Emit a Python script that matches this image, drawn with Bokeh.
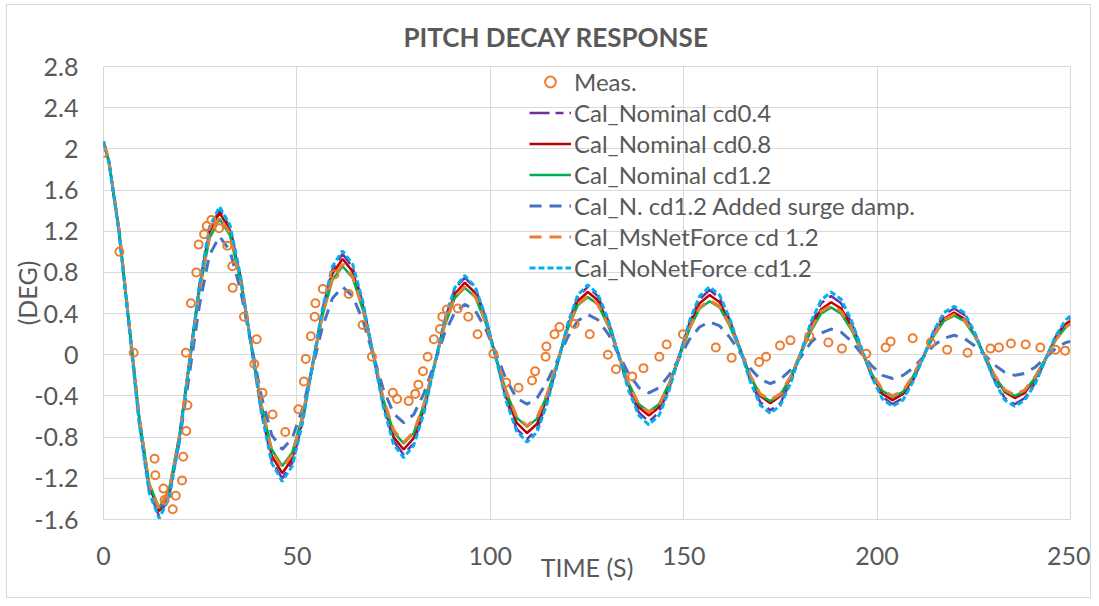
from bokeh.plotting import figure
from bokeh.models import Range1d, FixedTicker, NumeralTickFormatter, Legend, LegendItem
from bokeh.embed import file_html
from bokeh.resources import INLINE

# ---------------- data ----------------
time_calc = [0, 1.4, 4.0, 6.6, 9.2, 11.8, 14.4,
             17.0, 19.6, 22.2, 24.8, 27.4, 30.0,
             32.7, 35.4, 38.1, 40.8, 43.5, 46.2,
             48.8, 51.4, 54.0, 56.6, 59.2, 61.8,
             64.4, 67.1, 69.7, 72.3, 75.0, 77.6,
             80.2, 82.9, 85.5, 88.1, 90.8, 93.4,
             96.1, 98.8, 101.5, 104.1, 106.8, 109.5,
             112.1, 114.7, 117.4, 120.0, 122.6, 125.2,
             127.8, 130.5, 133.1, 135.7, 138.4, 141.0,
             143.6, 146.2, 148.9, 151.5, 154.1, 156.7,
             159.3, 161.9, 164.6, 167.2, 169.8, 172.4,
             175.0, 177.6, 180.3, 182.9, 185.5, 188.1,
             190.7, 193.4, 196.0, 198.7, 201.4, 204.0,
             206.7, 209.3, 212.0, 214.6, 217.3, 219.9,
             222.5, 225.1, 227.8, 230.4, 233.0, 235.6,
             238.2, 240.9, 243.5, 246.1, 248.8, 250.0]

cal_nominal_cd04 = [2.07, 1.87, 1.20, 0.28, -0.65, -1.32, -1.57,
                    -1.37, -0.83, -0.08, 0.67, 1.21, 1.41,
                    1.24, 0.76, 0.11, -0.55, -1.03, -1.20,
                    -1.05, -0.66, -0.11, 0.44, 0.83, 0.98,
                    0.85, 0.49, 0.01, -0.48, -0.84, -0.97,
                    -0.86, -0.54, -0.11, 0.32, 0.64, 0.75,
                    0.65, 0.36, -0.04, -0.43, -0.72, -0.82,
                    -0.72, -0.45, -0.08, 0.29, 0.56, 0.66,
                    0.57, 0.33, 0.01, -0.32, -0.56, -0.65,
                    -0.56, -0.33, -0.01, 0.31, 0.54, 0.63,
                    0.55, 0.34, 0.05, -0.25, -0.46, -0.54,
                    -0.47, -0.26, 0.02, 0.29, 0.50, 0.57,
                    0.50, 0.31, 0.05, -0.22, -0.41, -0.48,
                    -0.42, -0.25, -0.02, 0.22, 0.39, 0.45,
                    0.39, 0.22, -0.02, -0.25, -0.42, -0.48,
                    -0.42, -0.27, -0.05, 0.17, 0.32, 0.36]

cal_nominal_cd08 = [2.07, 1.88, 1.21, 0.30, -0.61, -1.28, -1.52,
                    -1.33, -0.80, -0.07, 0.66, 1.19, 1.38,
                    1.21, 0.75, 0.12, -0.52, -0.98, -1.15,
                    -1.01, -0.63, -0.11, 0.41, 0.79, 0.93,
                    0.81, 0.47, 0.01, -0.46, -0.80, -0.92,
                    -0.81, -0.52, -0.11, 0.30, 0.59, 0.70,
                    0.60, 0.34, -0.03, -0.40, -0.66, -0.76,
                    -0.67, -0.42, -0.08, 0.27, 0.52, 0.61,
                    0.53, 0.31, 0.01, -0.29, -0.51, -0.59,
                    -0.51, -0.30, 0.00, 0.29, 0.50, 0.58,
                    0.51, 0.32, 0.06, -0.21, -0.40, -0.47,
                    -0.40, -0.23, 0.02, 0.27, 0.44, 0.51,
                    0.45, 0.27, 0.04, -0.20, -0.38, -0.44,
                    -0.38, -0.23, -0.02, 0.20, 0.35, 0.41,
                    0.35, 0.20, -0.01, -0.21, -0.36, -0.42,
                    -0.37, -0.23, -0.04, 0.16, 0.30, 0.33]

cal_nominal_cd12 = [2.07, 1.88, 1.22, 0.32, -0.59, -1.25, -1.49,
                    -1.30, -0.79, -0.09, 0.62, 1.13, 1.32,
                    1.16, 0.72, 0.12, -0.48, -0.92, -1.08,
                    -0.95, -0.60, -0.11, 0.38, 0.73, 0.86,
                    0.75, 0.43, 0.00, -0.43, -0.75, -0.86,
                    -0.76, -0.48, -0.11, 0.27, 0.55, 0.65,
                    0.56, 0.31, -0.03, -0.36, -0.61, -0.70,
                    -0.62, -0.39, -0.07, 0.25, 0.48, 0.56,
                    0.49, 0.28, 0.01, -0.27, -0.48, -0.55,
                    -0.48, -0.28, -0.02, 0.25, 0.45, 0.52,
                    0.46, 0.28, 0.04, -0.21, -0.39, -0.45,
                    -0.39, -0.22, 0.01, 0.23, 0.40, 0.46,
                    0.40, 0.24, 0.03, -0.19, -0.35, -0.41,
                    -0.36, -0.21, -0.02, 0.18, 0.33, 0.38,
                    0.33, 0.19, -0.01, -0.21, -0.35, -0.40,
                    -0.35, -0.22, -0.04, 0.14, 0.27, 0.30]

cal_surge_damp = [2.07, 1.88, 1.21, 0.30, -0.61, -1.28, -1.52,
                  -1.34, -0.85, -0.19, 0.48, 0.97, 1.15,
                  1.01, 0.63, 0.12, -0.40, -0.78, -0.92,
                  -0.81, -0.53, -0.13, 0.27, 0.55, 0.66,
                  0.57, 0.33, 0.00, -0.33, -0.57, -0.66,
                  -0.58, -0.37, -0.09, 0.20, 0.41, 0.49,
                  0.43, 0.25, 0.01, -0.24, -0.42, -0.48,
                  -0.42, -0.26, -0.05, 0.17, 0.33, 0.39,
                  0.34, 0.20, 0.01, -0.18, -0.32, -0.37,
                  -0.32, -0.20, -0.03, 0.15, 0.27, 0.32,
                  0.28, 0.17, 0.02, -0.13, -0.24, -0.28,
                  -0.24, -0.15, -0.02, 0.12, 0.21, 0.25,
                  0.22, 0.13, 0.01, -0.11, -0.20, -0.23,
                  -0.20, -0.13, -0.02, 0.09, 0.16, 0.19,
                  0.16, 0.09, 0.00, -0.10, -0.17, -0.20,
                  -0.18, -0.12, -0.03, 0.06, 0.12, 0.13]

cal_ms_net_force = [2.07, 1.88, 1.22, 0.31, -0.60, -1.26, -1.50,
                    -1.31, -0.79, -0.08, 0.63, 1.15, 1.34,
                    1.18, 0.73, 0.12, -0.49, -0.94, -1.10,
                    -0.97, -0.61, -0.11, 0.39, 0.75, 0.88,
                    0.76, 0.45, 0.02, -0.42, -0.73, -0.85,
                    -0.75, -0.47, -0.10, 0.28, 0.56, 0.66,
                    0.57, 0.32, -0.02, -0.35, -0.60, -0.69,
                    -0.61, -0.38, -0.06, 0.26, 0.49, 0.57,
                    0.49, 0.29, 0.01, -0.28, -0.48, -0.56,
                    -0.49, -0.29, -0.02, 0.26, 0.46, 0.53,
                    0.47, 0.29, 0.05, -0.20, -0.38, -0.44,
                    -0.38, -0.21, 0.02, 0.25, 0.42, 0.48,
                    0.42, 0.26, 0.04, -0.18, -0.34, -0.40,
                    -0.35, -0.20, -0.01, 0.19, 0.34, 0.39,
                    0.34, 0.20, 0.00, -0.20, -0.34, -0.39,
                    -0.34, -0.21, -0.04, 0.14, 0.27, 0.30]

cal_no_net_force = [2.07, 1.87, 1.19, 0.27, -0.66, -1.34, -1.59,
                    -1.39, -0.83, -0.08, 0.68, 1.24, 1.44,
                    1.26, 0.77, 0.11, -0.56, -1.05, -1.23,
                    -1.08, -0.67, -0.11, 0.45, 0.86, 1.01,
                    0.88, 0.51, 0.00, -0.50, -0.87, -1.00,
                    -0.88, -0.56, -0.12, 0.33, 0.65, 0.77,
                    0.66, 0.37, -0.04, -0.45, -0.74, -0.85,
                    -0.75, -0.47, -0.09, 0.30, 0.58, 0.68,
                    0.59, 0.34, 0.00, -0.34, -0.59, -0.68,
                    -0.59, -0.35, -0.01, 0.33, 0.57, 0.66,
                    0.58, 0.35, 0.05, -0.26, -0.49, -0.57,
                    -0.49, -0.28, 0.02, 0.32, 0.53, 0.61,
                    0.54, 0.33, 0.06, -0.22, -0.43, -0.50,
                    -0.44, -0.26, -0.02, 0.23, 0.41, 0.47,
                    0.41, 0.23, -0.02, -0.26, -0.44, -0.50,
                    -0.44, -0.28, -0.05, 0.18, 0.34, 0.38]

meas_time = [0.0, 4.1, 7.8, 13.2, 13.4, 15.5, 15.8, 17.9, 18.7, 20.3,
             20.6, 21.4, 21.7, 21.3, 22.6, 24.0, 24.6, 26.0, 26.7, 27.9,
             29.9, 32.0, 33.3, 33.4, 36.3, 39.6, 39.0, 41.1, 43.7, 47.0,
             50.4, 51.8, 52.3, 53.6, 54.6, 54.8, 56.7, 59.7, 63.4, 67.0,
             69.4, 74.8, 75.9, 78.9, 80.6, 81.4, 82.6, 83.8, 85.4, 87.0,
             87.6, 88.8, 91.6, 94.3, 96.7, 100.8, 104.1, 107.3, 110.8, 111.6,
             114.3, 114.5, 116.6, 117.9, 121.8, 125.7, 130.4, 132.5, 136.7, 139.6,
             143.7, 145.6, 149.8, 158.3, 162.4, 169.5, 171.3, 174.9, 177.6, 182.5,
             187.4, 190.9, 197.2, 202.2, 203.5, 209.2, 213.9, 218.1, 223.4, 229.3,
             231.5, 234.6, 238.4, 242.2, 246.1, 248.6]
meas_deg = [1.96, 1.00, 0.02, -1.01, -1.17, -1.30, -1.41, -1.50, -1.37, -1.22,
            -0.99, -0.74, -0.49, 0.02, 0.50, 0.80, 1.07, 1.17, 1.25, 1.31,
            1.23, 1.06, 0.86, 0.65, 0.37, 0.15, -0.09, -0.37, -0.58, -0.75,
            -0.53, -0.26, -0.04, 0.18, 0.37, 0.50, 0.64, 0.78, 0.59, 0.29,
            -0.02, -0.37, -0.43, -0.45, -0.38, -0.29, -0.16, -0.02, 0.15, 0.25,
            0.37, 0.44, 0.45, 0.37, 0.20, 0.01, -0.27, -0.32, -0.25, -0.16,
            -0.02, 0.08, 0.20, 0.27, 0.30, 0.20, 0.00, -0.14, -0.21, -0.13,
            -0.02, 0.10, 0.20, 0.07, -0.03, -0.07, -0.02, 0.09, 0.14, 0.18,
            0.12, 0.06, 0.01, 0.07, 0.13, 0.16, 0.12, 0.05, 0.02, 0.06,
            0.07, 0.11, 0.10, 0.07, 0.05, 0.04]

x_ticks = [0, 50, 100, 150, 200, 250]
y_ticks = [-1.6, -1.2, -0.8, -0.4, 0, 0.4, 0.8, 1.2, 1.6, 2.0, 2.4, 2.8]

series_labels = ["Meas.", "Cal_Nominal cd0.4", "Cal_Nominal cd0.8", "Cal_Nominal cd1.2",
                 "Cal_N. cd1.2 Added surge damp.", "Cal_MsNetForce cd 1.2", "Cal_NoNetForce cd1.2"]

# ---------------- figure ----------------
TXT = "#595959"
GRID = "#d9d9d9"
FONT = "Lato"

p = figure(width=1085, height=594,
           x_range=Range1d(0, 250), y_range=Range1d(-1.6, 2.8),
           output_backend="svg", toolbar_location=None,
           min_border_left=96, min_border_right=22, min_border_top=61, min_border_bottom=80,
           background_fill_color="white", border_fill_color="white")
p.styles = {"border": "1px solid #d9d9d9", "margin-left": "6px", "margin-top": "4px"}

p.title.text = "PITCH DECAY RESPONSE"
p.title.align = "left"
p.title.offset = 300
p.title.text_font = FONT
p.title.text_font_size = "26px"
p.title.text_font_style = "bold"
p.title.text_color = TXT
p.title.standoff = 27

p.xaxis.ticker = FixedTicker(ticks=x_ticks)
p.yaxis.ticker = FixedTicker(ticks=y_ticks)
p.xgrid.ticker = FixedTicker(ticks=x_ticks)
p.ygrid.ticker = FixedTicker(ticks=y_ticks)
p.yaxis.formatter = NumeralTickFormatter(format="0.[0]")
p.xgrid.grid_line_color = GRID
p.ygrid.grid_line_color = GRID
p.outline_line_color = GRID

for ax in (p.xaxis[0], p.yaxis[0]):
    ax.axis_line_color = None
    ax.major_tick_line_color = None
    ax.minor_tick_line_color = None
    ax.major_label_text_font = FONT
    ax.major_label_text_font_size = "25px"
    ax.major_label_text_color = TXT
    ax.axis_label_text_font = FONT
    ax.axis_label_text_font_size = "25px"
    ax.axis_label_text_font_style = "normal"
    ax.axis_label_text_color = TXT

p.xaxis.axis_label = "TIME (S)"
p.yaxis.axis_label = "(DEG)"
p.xaxis.major_label_standoff = 21
p.yaxis.major_label_standoff = 19
p.xaxis.axis_label_standoff = -16
p.yaxis.axis_label_standoff = -11

r04 = p.line(time_calc, cal_nominal_cd04, line_color="#7030A0", line_width=2.5, line_dash="20 6 8 6")
r08 = p.line(time_calc, cal_nominal_cd08, line_color="#C00000", line_width=2.5)
r12 = p.line(time_calc, cal_nominal_cd12, line_color="#00B050", line_width=2.5)
rsg = p.line(time_calc, cal_surge_damp, line_color="#4472C4", line_width=3, line_dash="12 8")
rms = p.line(time_calc, cal_ms_net_force, line_color="#ED7D31", line_width=3, line_dash="12 8")
rno = p.line(time_calc, cal_no_net_force, line_color="#00B0F0", line_width=3, line_dash="6 3")
rme = p.scatter(meas_time, meas_deg, marker="circle", size=8, fill_color=None,
                line_color="#ED7D31", line_width=2)

renderers = [rme, r04, r08, r12, rsg, rms, rno]
legend = Legend(items=[LegendItem(label=l, renderers=[r]) for l, r in zip(series_labels, renderers)],
                location=(426, 237), padding=0, margin=0, spacing=2,
                glyph_width=42, glyph_height=27, label_height=27, label_standoff=3,
                label_text_font=FONT, label_text_font_size="24px", label_text_color=TXT,
                background_fill_alpha=0, border_line_alpha=0)
p.add_layout(legend)

open("out.html", "w").write(file_html(p, INLINE))
